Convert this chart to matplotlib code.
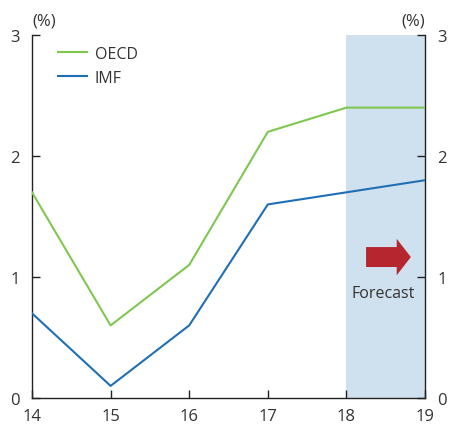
import matplotlib
matplotlib.use("Agg")
import matplotlib.pyplot as plt
from matplotlib.patches import FancyArrow

plt.rcParams['font.family'] = ['Open Sans', 'DejaVu Sans']

years = [14, 15, 16, 17, 18, 19]
year_labels = ["14", "15", "16", "17", "18", "19"]
oecd = [1.7, 0.6, 1.1, 2.2, 2.4, 2.4]
imf = [0.7, 0.1, 0.6, 1.6, 1.7, 1.8]
forecast_span = (18, 19)

text_color = "#333333"
fig = plt.figure(figsize=(4.52, 4.27), dpi=100)
ax = fig.add_axes([0.0708, 0.0656, 0.8695, 0.850])

ax.axvspan(*forecast_span, color="#cfe0ef", lw=0, zorder=0)
ax.plot(years, oecd, color="#7ec850", lw=1.5, label="OECD", zorder=3)
ax.plot(years, imf, color="#1f6fb5", lw=1.5, label="IMF", zorder=3)

ax.set_xlim(14, 19)
ax.set_ylim(0, 3)
ax.set_xticks(years)
ax.set_xticklabels(year_labels)
ax.set_yticks([0, 1, 2, 3])

for s in ["left", "right", "bottom"]:
    ax.spines[s].set_color("#222222")
    ax.spines[s].set_linewidth(1.0)
ax.spines["top"].set_visible(False)

ax.tick_params(axis="x", direction="in", length=6, width=1, colors="#222222",
               labelcolor=text_color, labelsize=12, pad=7)
ax.tick_params(axis="y", direction="in", length=6, width=1, colors="#222222",
               labelcolor=text_color, labelsize=12, left=True, right=True,
               labelleft=True, labelright=True, pad=9)

ax.text(0.03, 1.018, "(%)", transform=ax.transAxes, ha="center", va="bottom",
        fontsize=12, color=text_color)
ax.text(0.97, 1.018, "(%)", transform=ax.transAxes, ha="center", va="bottom",
        fontsize=12, color=text_color)

leg = ax.legend(loc="upper left", bbox_to_anchor=(0.03, 1.01), frameon=False,
                fontsize=11.5, handlelength=1.8, handletextpad=0.5,
                labelspacing=0.5, labelcolor=text_color)

# forecast arrow and label
ax.add_patch(FancyArrow(18.25, 1.165, 0.57, 0, width=0.165, head_width=0.3,
                        head_length=0.18, length_includes_head=True,
                        color="#b5262e", lw=0, zorder=4))
ax.text(18.47, 0.87, "Forecast", ha="center", va="center", fontsize=11.5,
        color=text_color)

fig.savefig("out.png", dpi=100)
